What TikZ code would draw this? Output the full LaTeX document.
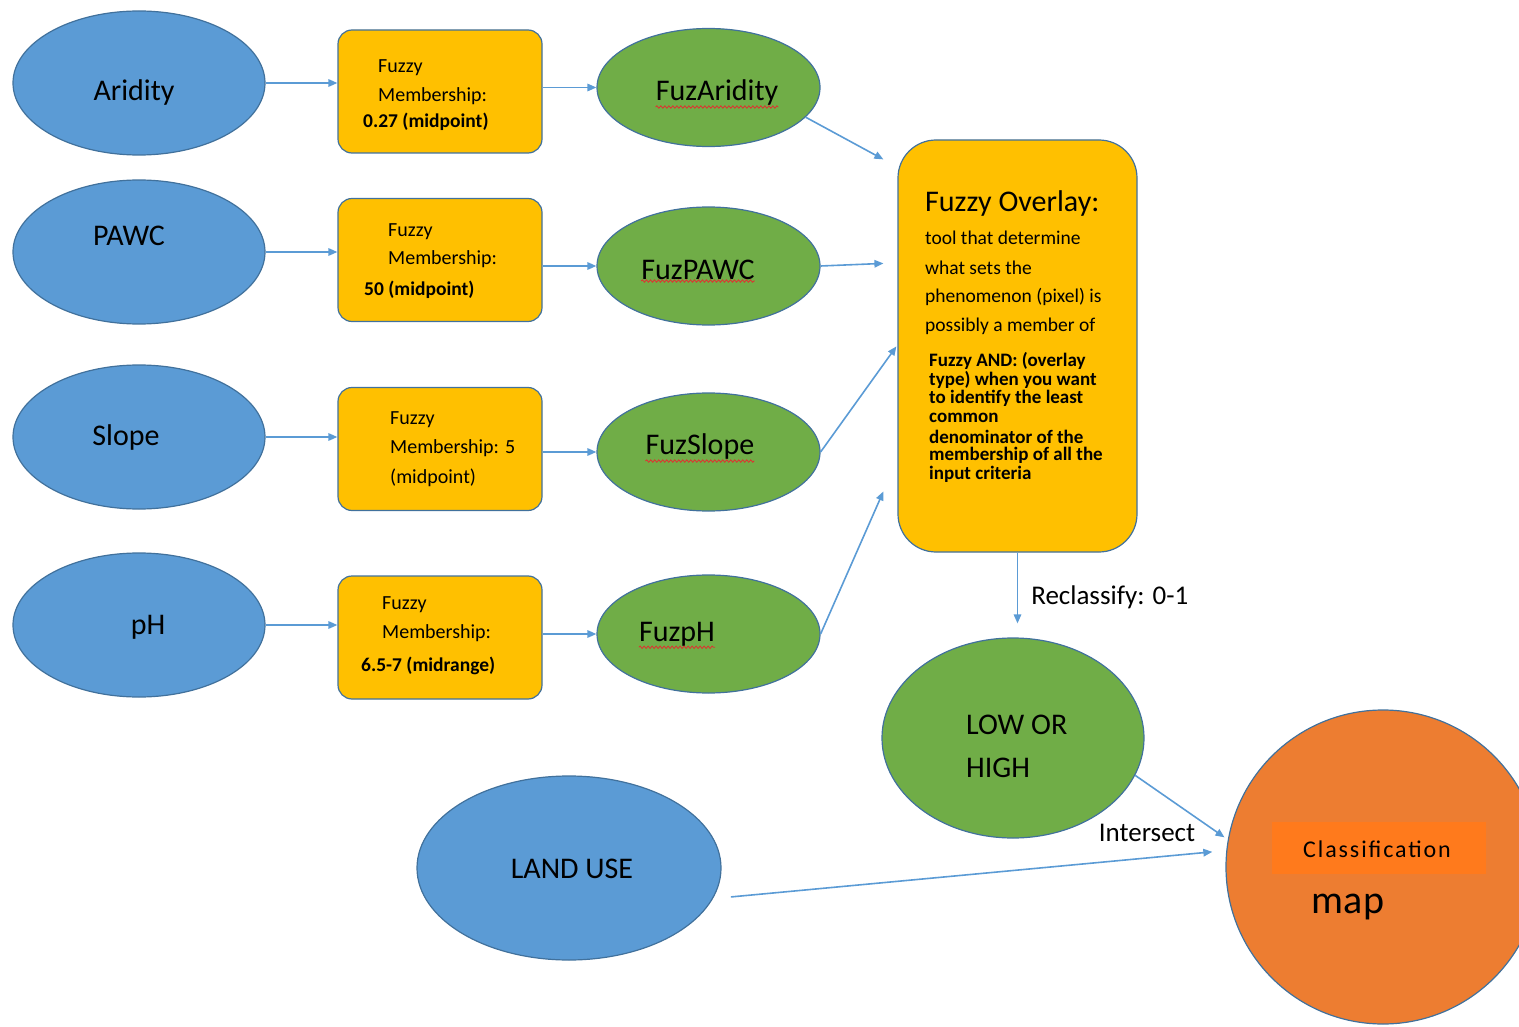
\documentclass[tikz,border=0pt]{standalone}
\usepackage{fontspec}
\setmainfont{Carlito}
\usetikzlibrary{shapes.geometric,arrows.meta,calc,decorations.pathmorphing}
\definecolor{ellblue}{HTML}{5B9BD5}
\definecolor{edge}{HTML}{41719C}
\definecolor{boxgold}{HTML}{FFC000}
\definecolor{leafgreen}{HTML}{70AD47}
\definecolor{mapor}{HTML}{ED7D31}
\definecolor{bandor}{HTML}{FF7A1C}
\definecolor{spell}{HTML}{E03030}

\begin{document}
\begin{tikzpicture}[x=1pt,y=-1pt,
  flow/.style={draw=ellblue, line width=1.6pt, -{Triangle[length=9pt,width=7.5pt]}},
  inputell/.style={ellipse, fill=ellblue, draw=edge, line width=1.2pt, minimum width=252pt, minimum height=144pt, inner sep=0},
  fuzzell/.style={ellipse, fill=leafgreen, draw=edge, line width=1.2pt, minimum width=223pt, minimum height=118pt, inner sep=0},
  mfbox/.style={rectangle, rounded corners=14pt, fill=boxgold, draw=edge, line width=1.2pt, minimum width=204pt, minimum height=123pt, inner sep=0},
  big/.style={font=\fontsize{30}{36}\selectfont, inner sep=0},
  mftext/.style={font=\fontsize{20}{24}\selectfont, inner sep=0, anchor=west},
  mfbold/.style={font=\bfseries\fontsize{19.5}{22}\selectfont, inner sep=0, anchor=west},
  ovtext/.style={font=\fontsize{19.5}{24}\selectfont, inner sep=0, anchor=west},
  ovbold/.style={font=\bfseries\fontsize{19}{21}\selectfont, inner sep=0, anchor=west},
  note/.style={font=\fontsize{27}{32}\selectfont, inner sep=0},
  squiggle/.style={draw=spell, line width=0.8pt, decorate, decoration={snake, amplitude=1.2pt, segment length=4pt}}
]
\useasboundingbox (0,0) rectangle (1519,1027);

% input layers
\node[inputell] (arid) at (139,83) {};
\node[inputell] (pawc) at (139,252) {};
\node[inputell] (slope) at (139,437) {};
\node[inputell] (ph) at (139,625) {};
\node[big] (aridT) at (134,93) {Aridity};
\node[big] (pawcT) at (129,236) {PAWC};
\node[big] (slopeT) at (126,438) {Slope};
\node[big] (phT) at (148,627) {pH};

% fuzzy membership tools
\node[mfbox] (mfA) at (440,91.5) {};
\node[mfbox] (mfP) at (440,260) {};
\node[mfbox] (mfS) at (440,449) {};
\node[mfbox] (mfH) at (440,637.5) {};

\node[mftext] (mfA1) at (378,68) {Fuzzy};
\node[mftext] (mfA2) at (378,96) {Membership:};
\node[mfbold] (mfA3) at (363,122) {0.27 (midpoint)};

\node[mftext] (mfP1) at (388,232) {Fuzzy};
\node[mftext] (mfP2) at (388,259) {Membership:};
\node[mfbold] (mfP3) at (364,290) {50 (midpoint)};

\node[mftext] (mfS1) at (390,420) {Fuzzy};
\node[mftext] (mfS2) at (390,448) {Membership: 5};
\node[mftext] (mfS3) at (390,478) {(midpoint)};

\node[mftext] (mfH1) at (382,605) {Fuzzy};
\node[mftext] (mfH2) at (382,633) {Membership:};
\node[mfbold] (mfH3) at (361,666) {6.5-7 (midrange)};

% fuzzified layers
\node[fuzzell] (fzA) at (708.5,87.5) {};
\node[fuzzell] (fzP) at (708.5,266) {};
\node[fuzzell] (fzS) at (708.5,452) {};
\node[fuzzell] (fzH) at (708.5,634) {};
\node[big] (fzAT) at (717,93) {FuzAridity};
\node[big] (fzPT) at (698,270) {FuzPAWC};
\node[big] (fzST) at (700,447) {FuzSlope};
\node[big] (fzHT) at (677,634) {FuzpH};
\foreach \n in {fzAT,fzPT,fzST,fzHT}
  \draw[squiggle] ([yshift=-1pt]\n.south west) -- ([yshift=-1pt]\n.south east);

% overlay tool
\node[rectangle, rounded corners=38pt, fill=boxgold, draw=edge, line width=1.2pt,
      minimum width=239pt, minimum height=412pt, inner sep=0] (ov) at (1017.5,346) {};
\node[big, anchor=west] (ovT) at (925,204) {Fuzzy Overlay:};
\foreach \t [count=\i] in {tool that determine, what sets the, phenomenon (pixel) is, possibly a member of}
  \node[ovtext] (ovl\i) at (925,{238+29.4*(\i-1)}) {\t};
\foreach \t [count=\i] in {Fuzzy AND: (overlay, type) when you want, to identify the least, common, denominator of the, membership of all the, input criteria}
  \node[ovbold] (ovb\i) at (929,{361+18.9*(\i-1)}) {\t};

% reclassified result
\node[ellipse, fill=leafgreen, draw=edge, line width=1.2pt, minimum width=262pt,
      minimum height=200pt, inner sep=0] (low) at (1013,738) {};
\node[big, anchor=west] (low1) at (966,725) {LOW OR};
\node[big, anchor=west] (low2) at (966,768) {HIGH};

% land use
\node[inputell, minimum width=304pt, minimum height=184pt] (land) at (569,868) {};
\node[big] (landT) at (572,869) {LAND USE};

% classification map
\node[circle, fill=mapor, draw=edge, line width=1.2pt, minimum size=314pt, inner sep=0] (map) at (1383,867) {};
\node[rectangle, fill=bandor, minimum width=214pt, minimum height=52pt, inner sep=0] (band) at (1379,848) {};
\node[font=\fontsize{24}{28}\selectfont\addfontfeature{LetterSpace=8}, inner sep=0] (bandT) at (1377,849) {Classification};
\node[font=\fontsize{40}{46}\selectfont, inner sep=0] (mapT) at (1348,907) {map};

% connectors: inputs to membership tools
\draw[flow] (arid.east) -- (arid.east -| mfA.west);
\draw[flow] (pawc.east) -- (pawc.east -| mfP.west);
\draw[flow] (slope.east) -- (slope.east -| mfS.west);
\draw[flow] (ph.east) -- (ph.east -| mfH.west);

% membership tools to fuzzified layers
\draw[flow] (mfA.east |- fzA.west) -- (fzA.west);
\draw[flow] (mfP.east |- fzP.west) -- (fzP.west);
\draw[flow] (mfS.east |- fzS.west) -- (fzS.west);
\draw[flow] (mfH.east |- fzH.west) -- (fzH.west);

% fuzzified layers to overlay
\draw[flow] (fzA.-17) -- ($(ov.north west)+(-14,20)$);
\draw[flow] (fzP.east) -- ($(ov.north west)+(-14,124)$);
\draw[flow] (fzS.east) -- ($(ov.north west)+(-1,207)$);
\draw[flow] (fzH.east) -- ($(ov.north west)+(-14,352)$);

% overlay to reclassified result
\draw[flow, shorten >=14pt] (ov.south) -- (ov.south |- low.north)
  node[note, midway, right, xshift=13pt, yshift=-2pt] (recl) {Reclassify: 0-1};

% intersect into the map
\draw[flow, shorten >=4pt] (low.-17) -- (map.170);
\draw[flow, shorten <=18pt, shorten >=14pt] (land.-12.5) -- (map.174);
\node[note] (inter) at (1147,833) {Intersect};
\end{tikzpicture}
\end{document}
